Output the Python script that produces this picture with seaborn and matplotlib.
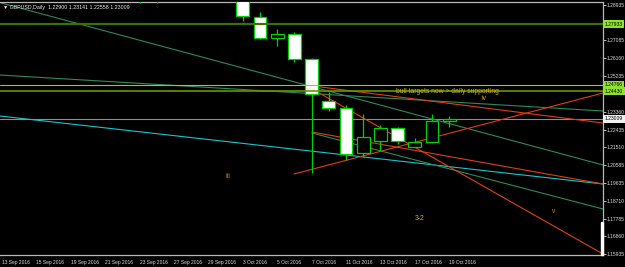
import numpy as np
import pandas as pd
import matplotlib
matplotlib.use("Agg")
import matplotlib.pyplot as plt
import matplotlib.transforms as mtransforms
from matplotlib.patches import Rectangle
import seaborn as sns

# ---------------- data ----------------
dates = ["13 Sep 2016", "14 Sep 2016", "15 Sep 2016", "16 Sep 2016", "19 Sep 2016",
         "20 Sep 2016", "21 Sep 2016", "22 Sep 2016", "23 Sep 2016", "26 Sep 2016",
         "27 Sep 2016", "28 Sep 2016", "29 Sep 2016", "30 Sep 2016", "3 Oct 2016",
         "4 Oct 2016", "5 Oct 2016", "6 Oct 2016", "7 Oct 2016", "10 Oct 2016",
         "11 Oct 2016", "12 Oct 2016", "13 Oct 2016", "14 Oct 2016", "17 Oct 2016",
         "18 Oct 2016", "19 Oct 2016"]
opens = [1.3270, 1.3209, 1.3240, 1.3254, 1.3060, 1.3010, 1.2990, 1.3045, 1.3030, 1.2960,
         1.2990, 1.2985, 1.2985, 1.2980, 1.2970, 1.28324, 1.27196, 1.27405, 1.26100, 1.23923,
         1.23542, 1.21193, 1.21834, 1.22498, 1.21506, 1.21767, 1.22900]
highs = [1.3298, 1.3260, 1.3275, 1.3264, 1.3070, 1.3050, 1.3080, 1.3140, 1.3035, 1.3015,
         1.3005, 1.3055, 1.3040, 1.3010, 1.2985, 1.28554, 1.27666, 1.27541, 1.26152, 1.24409,
         1.23714, 1.23229, 1.22670, 1.22581, 1.21975, 1.23229, 1.23141]
lows = [1.3196, 1.3170, 1.3155, 1.3055, 1.2990, 1.2960, 1.2965, 1.3020, 1.2905, 1.2906,
        1.2920, 1.2960, 1.2960, 1.2915, 1.28100, 1.27160, 1.26810, 1.25975, 1.20164, 1.23401,
        1.20843, 1.20984, 1.21313, 1.21662, 1.21500, 1.21750, 1.22558]
closes = [1.3209, 1.3240, 1.3254, 1.3060, 1.3010, 1.2990, 1.3045, 1.3030, 1.2960, 1.2990,
          1.2985, 1.2985, 1.2980, 1.2970, 1.28361, 1.27196, 1.27421, 1.26100, 1.24288, 1.23542,
          1.21156, 1.22028, 1.22498, 1.21834, 1.21798, 1.22879, 1.23009]

# horizontal levels
h_levels = [1.27933, 1.24766, 1.24430, 1.23009]
h_colors = ["#3d7000", "#86d420", "#6a9600", "#8c8c8c"]
h_widths = [1.6, 0.8, 1.2, 0.8]
h_label_bg = ["#8ee22c", "#8ee22c", "#8ee22c", "#f0f0f0"]

# trend lines (bar index, price)
tl_x0 = [-0.12, -0.12, -0.12, 18.02, 17.62, 17.62, 18.02, 16.98]
tl_y0 = [1.29060, 1.25280, 1.23140, 1.22252, 1.24758, 1.24758, 1.22304, 1.20112]
tl_x1 = [34.94, 34.94, 34.94, 34.94, 34.94, 34.94, 34.94, 34.94]
tl_y1 = [1.20582, 1.23401, 1.19590, 1.18285, 1.22774, 1.15935, 1.19590, 1.24341]
tl_col = ["#2c8a5c", "#2c8a5c", "#18c4d0", "#2c8a5c", "#e0400c", "#e0400c", "#e0400c", "#e0400c"]

# price axis labels
ytick_vals = [1.28935, 1.27085, 1.26160, 1.25235, 1.23360, 1.22435, 1.21510, 1.20585,
              1.19635, 1.18710, 1.17785, 1.16860, 1.15935]
xtick_idx = [0, 2, 4, 6, 8, 10, 12, 14, 16, 18, 20, 22, 24, 26]

# annotations
notes = ["bull targets now > daily supporting", "iv", "iii", "3-2", "v"]
note_x = [22.9, 27.9, 13.0, 24.0, 32.0]
note_y = [1.2443, 1.2404, 1.2000, 1.1781, 1.1815]
note_col = ["#d2b800", "#d2a800", "#d08a00", "#d2b800", "#d09000"]

# ---------------- drawing ----------------
sns.set_style("dark", {"axes.facecolor": "black", "figure.facecolor": "black"})
plt.rcParams["font.family"] = ["Liberation Sans", "DejaVu Sans"]

fig = plt.figure(figsize=(6.25, 2.67), dpi=100, facecolor="black")
ax = fig.add_axes([0, 12 / 267, 603 / 625, 253 / 267])
ax.set_facecolor("black")

x = np.arange(len(dates))
o = np.array(opens); c = np.array(closes); h = np.array(highs); l = np.array(lows)
green = "#00d000"

# bid line behind candles
ax.axhline(h_levels[3], color=h_colors[3], lw=h_widths[3], zorder=1)

# trend lines
for i in range(len(tl_x0)):
    sns.lineplot(x=[tl_x0[i], tl_x1[i]], y=[tl_y0[i], tl_y1[i]], color=tl_col[i],
                 lw=0.8, ax=ax, estimator=None, sort=False, zorder=2)

# candles
ax.vlines(x, l, h, color=green, lw=0.9, zorder=3)
bear = c < o
ax.bar(x[bear], (o - c)[bear], bottom=c[bear], width=0.74, color="white",
       edgecolor=green, linewidth=0.9, zorder=4)
ax.bar(x[~bear], np.maximum((c - o)[~bear], 0.0002), bottom=o[~bear], width=0.74,
       color="black", edgecolor=green, linewidth=0.9, zorder=4)

# horizontal levels on top
for lev, col, w in zip(h_levels[:3], h_colors[:3], h_widths[:3]):
    ax.axhline(lev, color=col, lw=w, zorder=5)

# annotations
for t, tx, ty, tc in zip(notes, note_x, note_y, note_col):
    ax.text(tx, ty, t, color=tc, fontsize=4.9, va="center", ha="left", zorder=6)

ax.set_xlim(-0.116, 34.94)
ax.set_ylim(1.15883, 1.29092)

# axes styling
for s in ["top", "right", "bottom"]:
    ax.spines[s].set_visible(True)
    ax.spines[s].set_color("#b8b8b8")
    ax.spines[s].set_linewidth(0.9)
ax.spines["left"].set_visible(False)

ax.yaxis.tick_right()
ax.set_yticks(ytick_vals)
ax.set_yticklabels([f"{v:.5f}" for v in ytick_vals])
ax.tick_params(axis="y", colors="#d8d8d8", labelsize=3.6, length=2, width=0.6, pad=0.8,
               left=False, right=True)
ax.set_xticks(xtick_idx)
ax.set_xticklabels([dates[i] for i in xtick_idx], ha="left")
ax.tick_params(axis="x", colors="#d8d8d8", labelsize=3.5, length=2, width=0.6, pad=1.5)
ax.set_xlabel(""); ax.set_ylabel("")
ax.grid(False)

# highlighted price labels
trans = mtransforms.blended_transform_factory(ax.transAxes, ax.transData)
for lev, bg in zip(h_levels, h_label_bg):
    ax.text(1.003, lev, f"{lev:.5f}", transform=trans, fontsize=3.6, color="black",
            va="center", ha="left", clip_on=False, zorder=10,
            bbox=dict(boxstyle="square,pad=0.3", fc=bg, ec="none"))

# scroll marker at right edge
ax.add_patch(Rectangle((0.9965, 0.0), 0.0035, 0.13, transform=ax.transAxes,
                       color="white", zorder=9, clip_on=False))

# title
fig.text(3 / 625, 1 - 8 / 267, "\u25bc GBPUSD,Daily  1.22900 1.23141 1.22558 1.23009",
         color="#e8e8e8", fontsize=3.8, va="center", ha="left")

fig.savefig("out.png", dpi=100, facecolor="black")
